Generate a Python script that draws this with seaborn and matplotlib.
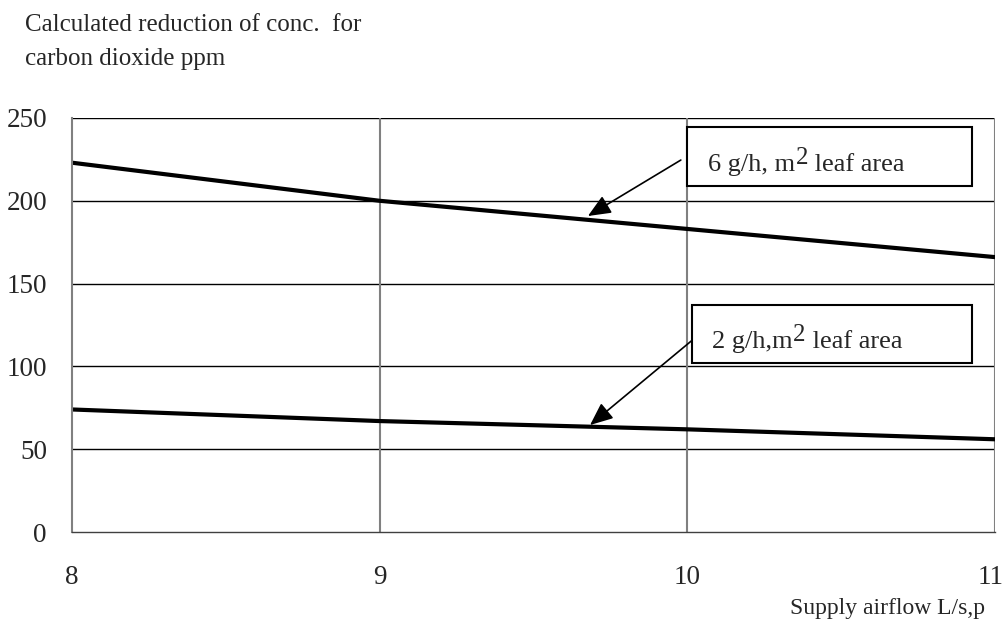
import matplotlib
matplotlib.use('Agg')
import numpy as np
import pandas as pd
import matplotlib.pyplot as plt
import matplotlib.transforms as mtransforms
import seaborn as sns

sns.set_style('white')
plt.rcParams['font.family'] = ['Liberation Serif', 'DejaVu Serif']

# data
airflow = [8, 9, 10, 11]
high_emission = [223, 200, 183, 166]   # 6 g/h, m2 leaf area
low_emission = [74, 67, 62, 56]        # 2 g/h, m2 leaf area
x_ticks = [8, 9, 10, 11]
y_ticks = [0, 50, 100, 150, 200, 250]

df = pd.DataFrame({
    'airflow': airflow * 2,
    'reduction': high_emission + low_emission,
    'series': ['6 g/h'] * len(airflow) + ['2 g/h'] * len(airflow),
})

fig = plt.figure(figsize=(10.05, 6.2), dpi=100)
ax = fig.add_axes([0.0716, 0.1419, 0.9184, 0.6678])

sns.lineplot(data=df, x='airflow', y='reduction', units='series',
             estimator=None, color='black', linewidth=3.0, ax=ax,
             legend=False)

ax.set_xlim(8, 11)
ax.set_ylim(0, 250)
ax.set_xticks(x_ticks)
ax.set_yticks(y_ticks)
ax.set_xlabel('')
ax.set_ylabel('')

# grid: horizontal black, vertical gray
for y in y_ticks[1:]:
    ax.axhline(y, color='black', linewidth=1.0, zorder=0.5)
for x in x_ticks[1:]:
    ax.axvline(x, color='#808080', linewidth=1.5, zorder=0.5)

for side in ['top', 'right']:
    ax.spines[side].set_visible(False)
ax.spines['left'].set_color('#808080')
ax.spines['left'].set_linewidth(1.5)
ax.spines['bottom'].set_color('#404040')
ax.spines['bottom'].set_linewidth(1.0)

ax.tick_params(axis='y', direction='out', length=8, width=1.0,
               color='#404040', labelsize=19.5, pad=10)
ax.tick_params(axis='x', direction='inout', length=16, width=1.5,
               color='#808080', labelsize=19.5, pad=16)

# last x label sits right at the figure edge, nudge it in a little
last = ax.get_xticklabels()[-1]
last.set_transform(last.get_transform() +
                   mtransforms.ScaledTranslation(-4 / 100, 0, fig.dpi_scale_trans))

# arrows
arrow_style = dict(arrowstyle='-|>,head_length=1.4,head_width=0.6',
                   color='black', lw=1.2, shrinkA=0, shrinkB=0)
ax.annotate('', xy=(9.677, 190.8), xytext=(9.979, 224.6),
            arrowprops=arrow_style)
ax.annotate('', xy=(9.684, 64.6), xytext=(10.025, 117.2),
            arrowprops=arrow_style)

# boxes around annotation text
ax.add_patch(plt.Rectangle((9.999, 209), 0.926, 35.6, facecolor='white',
                           edgecolor='black', lw=1.5, zorder=3))
ax.add_patch(plt.Rectangle((10.015, 102), 0.91, 35, facecolor='white',
                           edgecolor='black', lw=1.5, zorder=3))


def label_with_square(x, y, before, after):
    t1 = ax.text(x, y, before, fontsize=19, va='bottom', ha='left', zorder=4)
    t2 = ax.annotate('2', xy=(1, 1), xycoords=t1, xytext=(0.5, 5),
                     textcoords='offset points', fontsize=18,
                     va='top', ha='left', zorder=4)
    ax.annotate(after, xy=(1, 0), xycoords=(t2, t1), xytext=(0, 0),
                textcoords='offset points', fontsize=19,
                va='bottom', ha='left', zorder=4)


label_with_square(10.067, 215.0, '6 g/h, m', ' leaf area')
label_with_square(10.08, 108.0, '2 g/h,m', ' leaf area')

fig.text(0.025, 0.978, 'Calculated reduction of conc.  for\ncarbon dioxide ppm',
         fontsize=18, va='top', ha='left', linespacing=1.7)
fig.text(0.98, 0.009, 'Supply airflow L/s,p', fontsize=17, va='baseline',
         ha='right')

fig.savefig('out.png', dpi=100)
